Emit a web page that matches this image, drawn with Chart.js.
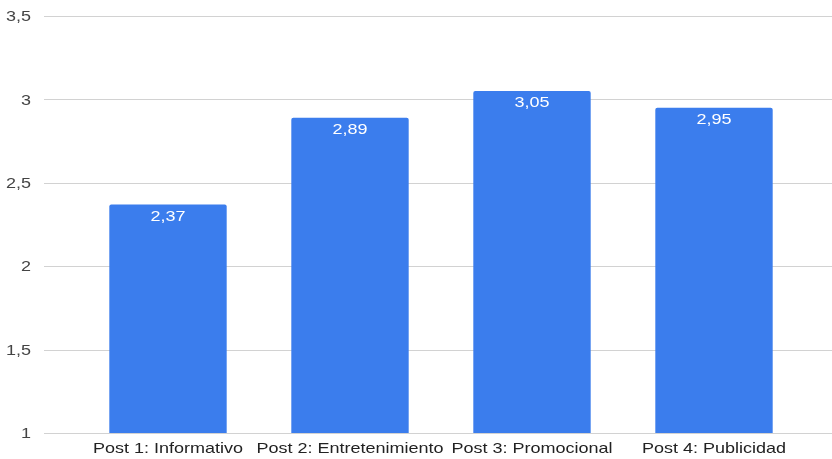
<!DOCTYPE html>
<html lang="es">
<head>
  <meta charset="UTF-8">
  <title>Posts</title>
  <script src="https://cdn.jsdelivr.net/npm/chart.js"></script>
  <style>
    html, body { margin: 0; padding: 0; background: #fff; overflow: hidden; }
    canvas { display: block; }
  </style>
</head>
<body>
  <canvas id="grafico" width="832" height="459"></canvas>
<script>
const categorias = ["Post 1: Informativo", "Post 2: Entretenimiento", "Post 3: Promocional", "Post 4: Publicidad"];
const valores = [2.37, 2.89, 3.05, 2.95];
const yMin = 1;
const yMax = 3.5;
const yPaso = 0.5;

const coma = v => String(v).replace(".", ",");
const FUENTE = "15px Arial, 'Liberation Sans', sans-serif";
const ANCHO = 1.2; // el texto del original esta estirado a lo ancho

function texto(ctx, s, x, y, align) {
  ctx.save();
  ctx.translate(x, y);
  ctx.scale(ANCHO, 1);
  ctx.textAlign = align;
  ctx.textBaseline = "middle";
  ctx.fillText(s, 0, 0);
  ctx.restore();
}

// lineas de la grilla mas anchas que el area de barras
const lineas = {
  id: "lineas",
  beforeDatasetsDraw(chart) {
    const ctx = chart.ctx;
    const y = chart.scales.y;
    ctx.save();
    ctx.strokeStyle = "#d2d2d2";
    ctx.lineWidth = 1;
    y.ticks.forEach(t => {
      const py = Math.round(y.getPixelForValue(t.value)) + 0.5;
      ctx.beginPath();
      ctx.moveTo(44, py);
      ctx.lineTo(832, py);
      ctx.stroke();
    });
    ctx.restore();
  }
};

// textos de ejes y valores
const textos = {
  id: "textos",
  afterDatasetsDraw(chart) {
    const ctx = chart.ctx;
    const x = chart.scales.x;
    const y = chart.scales.y;
    ctx.save();
    ctx.font = FUENTE;

    ctx.fillStyle = "#444";
    y.ticks.forEach(t => {
      texto(ctx, coma(t.value), 31, y.getPixelForValue(t.value) + 1, "right");
    });

    ctx.fillStyle = "#222";
    categorias.forEach((c, i) => {
      texto(ctx, c, x.getPixelForValue(i), 449, "center");
    });

    ctx.fillStyle = "#ffffff";
    chart.getDatasetMeta(0).data.forEach((bar, i) => {
      texto(ctx, coma(valores[i]), bar.x, bar.y + 12, "center");
    });
    ctx.restore();
  }
};

new Chart(document.getElementById("grafico"), {
  type: "bar",
  data: {
    labels: categorias,
    datasets: [{
      data: valores,
      backgroundColor: "#3b7ded",
      borderRadius: 2,
      borderSkipped: "bottom",
      categoryPercentage: 1,
      barPercentage: 0.645
    }]
  },
  options: {
    responsive: false,
    animation: false,
    layout: { padding: { top: 16, right: 27, bottom: 0, left: 0 } },
    plugins: { legend: { display: false }, tooltip: { enabled: false } },
    scales: {
      x: {
        grid: { display: false, drawTicks: false },
        border: { display: false },
        ticks: { display: false },
        afterFit(s) { s.height = 26; }
      },
      y: {
        min: yMin,
        max: yMax,
        grid: { display: false, drawTicks: false },
        border: { display: false },
        ticks: { display: false, stepSize: yPaso },
        afterFit(s) { s.width = 77; }
      }
    }
  },
  plugins: [lineas, textos]
});
</script>
</body>
</html>
